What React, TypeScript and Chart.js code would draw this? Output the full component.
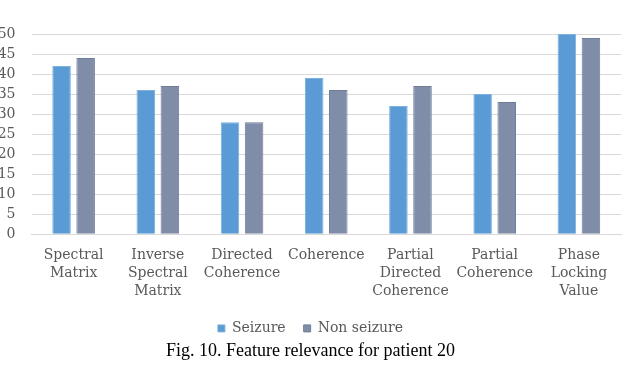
import React, { useEffect, useRef } from "react";
import { Chart, registerables } from "chart.js";

Chart.register(...registerables);

const categories: (string | string[])[] = [
  ["Spectral", "Matrix"],
  ["Inverse", "Spectral", "Matrix"],
  ["Directed", "Coherence"],
  "Coherence",
  ["Partial", "Directed", "Coherence"],
  ["Partial", "Coherence"],
  ["Phase", "Locking", "Value"],
];
const seizure = [42, 36, 28, 39, 32, 35, 50];
const nonSeizure = [44, 37, 28, 36, 37, 33, 49];
const yTicks = [0, 5, 10, 15, 20, 25, 30, 35, 40, 45, 50];
const seriesNames = ["Seizure", "Non seizure"];
const caption = "Fig. 10. Feature relevance for patient 20";

export default function App() {
  const ref = useRef<HTMLCanvasElement>(null);
  useEffect(() => {
    document.body.style.margin = "0";
    const ctx = ref.current!;
    const chart = new Chart(ctx, {
      type: "bar",
      data: {
        labels: categories,
        datasets: [
          {
            label: seriesNames[0],
            data: seizure,
            backgroundColor: "#5B9BD5",
            borderColor: "#7DB0DE",
            borderWidth: 1,
            categoryPercentage: 0.572,
            barPercentage: 0.77,
          },
          {
            label: seriesNames[1],
            data: nonSeizure,
            backgroundColor: "#7F8DA9",
            borderColor: "#6F7D98",
            borderWidth: 1,
            categoryPercentage: 0.572,
            barPercentage: 0.77,
          },
        ],
      },
      options: {
        animation: false,
        responsive: false,
        maintainAspectRatio: false,
        layout: { padding: { top: 34, right: 19, left: 0, bottom: 5 } },
        plugins: {
          tooltip: { enabled: false },
          legend: {
            position: "bottom",
            labels: {
              boxWidth: 7,
              boxHeight: 7,
              padding: 18,
              color: "#595959",
              font: { family: "DejaVu Serif", size: 14 },
            },
          },
          title: {
            display: true,
            position: "bottom",
            text: caption,
            color: "#000000",
            padding: { top: -5, bottom: 0 },
            font: { family: "Liberation Serif", size: 18, weight: "normal" },
          },
        },
        scales: {
          x: {
            grid: { display: false, drawTicks: false },
            border: { display: true, color: "#D9D9D9" },
            afterFit: (axis: any) => {
              axis.height = axis.height - 9.5;
            },
            ticks: {
              color: "#595959",
              font: { family: "DejaVu Serif", size: 14, lineHeight: 1.3 },
              maxRotation: 0,
              autoSkip: false,
              padding: 12,
            },
          },
          y: {
            min: 0,
            max: 50,
            afterBuildTicks: (axis: any) => {
              axis.ticks = yTicks.map((v) => ({ value: v }));
            },
            afterFit: (axis: any) => {
              axis.width = 31.5;
            },
            grid: { color: "#D9D9D9", drawTicks: false },
            border: { display: false },
            ticks: {
              autoSkip: false,
              color: "#595959",
              font: { family: "DejaVu Serif", size: 14 },
              padding: 16,
            },
          },
        },
      },
    });
    return () => chart.destroy();
  }, []);
  return (
    <div style={{ width: 640, height: 367 }}>
      <canvas ref={ref} width={640} height={367} style={{ width: 640, height: 367 }} />
    </div>
  );
}
